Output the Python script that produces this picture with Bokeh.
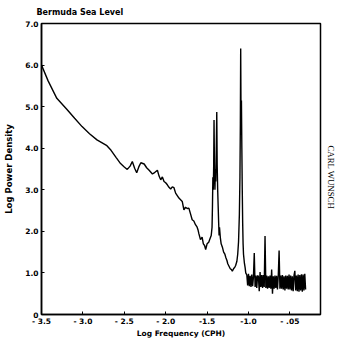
from bokeh.plotting import figure
from bokeh.models import FixedTicker, Range1d, Title
from bokeh.embed import file_html
from bokeh.resources import INLINE

# ---- data (log10 frequency in cph, log10 power density) ----
low_freq = [-3.50, -3.42, -3.315, -3.20, -3.10, -3.01, -2.92, -2.83, -2.71, -2.66,
            -2.60, -2.545, -2.50, -2.464, -2.43, -2.403, -2.375, -2.35, -2.325, -2.30,
            -2.26, -2.23, -2.20, -2.16, -2.13, -2.10, -2.08, -2.06, -2.04, -2.02,
            -2.00, -1.98, -1.96, -1.94, -1.92, -1.90, -1.88, -1.86, -1.84, -1.82,
            -1.80, -1.79, -1.78, -1.76, -1.74, -1.72, -1.70, -1.68, -1.66, -1.64,
            -1.62, -1.61, -1.60, -1.58, -1.56, -1.545, -1.53, -1.517, -1.50, -1.48,
            -1.465, -1.45, -1.44]
low_power = [6.00, 5.62, 5.20, 4.95, 4.72, 4.52, 4.35, 4.20, 4.06, 3.95,
             3.78, 3.63, 3.55, 3.49, 3.57, 3.68, 3.52, 3.41, 3.55, 3.65,
             3.62, 3.53, 3.47, 3.38, 3.42, 3.47, 3.33, 3.24, 3.31, 3.20,
             3.17, 3.12, 3.06, 3.02, 3.07, 3.05, 2.92, 2.86, 2.80, 2.76,
             2.72, 2.62, 2.52, 2.58, 2.55, 2.56, 2.42, 2.28, 2.25, 2.16,
             2.10, 2.04, 1.95, 1.80, 1.86, 1.70, 1.66, 1.56, 1.70, 1.74,
             1.82, 1.90, 2.10]

tidal_freq = [-1.435, -1.43, -1.425, -1.42, -1.416, -1.41, -1.405, -1.40, -1.395, -1.39,
              -1.383, -1.378, -1.372, -1.366, -1.36, -1.355, -1.35, -1.34, -1.33, -1.315,
              -1.30, -1.285, -1.275, -1.26, -1.25, -1.235, -1.22, -1.205, -1.195, -1.18,
              -1.165, -1.155, -1.14, -1.13, -1.12, -1.11, -1.103, -1.098, -1.094, -1.090,
              -1.085, -1.080, -1.075, -1.07, -1.065, -1.06, -1.05, -1.04, -1.033]
tidal_power = [2.60, 3.30, 3.00, 3.60, 4.68, 3.40, 3.00, 3.50, 3.20, 3.80,
               4.87, 3.60, 3.00, 2.60, 2.20, 1.90, 2.10, 1.85, 1.70, 1.62,
               1.50, 1.45, 1.38, 1.30, 1.22, 1.16, 1.10, 1.08, 1.04, 1.10,
               1.14, 1.18, 1.28, 1.45, 1.75, 2.40, 3.30, 4.60, 6.40, 4.80,
               5.15, 4.00, 3.00, 2.20, 1.70, 1.45, 1.25, 1.12, 1.00]

high_freq = [-1.02, -1.01, -1.00, -0.99, -0.98, -0.97, -0.96, -0.95, -0.94, -0.93,
             -0.92, -0.91, -0.90, -0.89, -0.88, -0.87, -0.86, -0.85, -0.84, -0.83,
             -0.82, -0.81, -0.80, -0.79, -0.78, -0.77, -0.76, -0.75, -0.74, -0.73,
             -0.72, -0.71, -0.70, -0.69, -0.68, -0.67, -0.66, -0.65, -0.64, -0.63,
             -0.62, -0.61, -0.60, -0.59, -0.58, -0.57, -0.56, -0.55, -0.54, -0.53,
             -0.52, -0.51, -0.50, -0.49, -0.48, -0.47, -0.46, -0.45, -0.44, -0.43,
             -0.42, -0.41, -0.40, -0.39, -0.38, -0.37, -0.36, -0.35, -0.34, -0.33,
             -0.32, -0.31]
high_power = [0.95, 0.70, 0.98, 0.68, 0.93, 0.66, 0.96, 0.68, 0.90, 1.48,
              0.66, 0.94, 0.64, 0.94, 0.91, 0.56, 1.02, 0.66, 0.95, 0.64,
              0.95, 0.66, 1.89, 0.64, 0.94, 0.62, 0.92, 0.64, 0.94, 0.62,
              1.08, 0.50, 0.92, 0.62, 0.94, 0.64, 0.93, 0.60, 0.94, 1.54,
              0.62, 0.94, 0.62, 0.95, 0.60, 0.92, 0.58, 0.94, 0.62, 0.93,
              0.60, 0.96, 0.60, 0.94, 0.58, 0.92, 0.56, 0.94, 1.05, 0.58,
              0.94, 0.56, 0.96, 0.55, 0.95, 0.58, 0.97, 0.55, 0.96, 0.58,
              0.98, 0.60]

x_ticks = [-3.5, -3.0, -2.5, -2.0, -1.5, -1.0, -0.5]
x_tick_labels = ["- 3.5", "- 3.0", "- 2.5", "- 2.0", "-1.5", "-1.0", "- .05"]
y_ticks = [0, 1, 2, 3, 4, 5, 6, 7]
y_tick_labels = ["0", "1.0", "2.0", "3.0", "4.0", "5.0", "6.0", "7.0"]

title_text = "Bermuda Sea Level"
x_label = "Log Frequency (CPH)"
y_label = "Log Power Density"
side_text = "CARL WUNSCH"

freq = low_freq + tidal_freq + high_freq
power = low_power + tidal_power + high_power

FONT = "DejaVu Sans"

p = figure(width=339, height=340, output_backend="svg", toolbar_location=None,
           x_range=Range1d(-3.5, -0.13), y_range=Range1d(0, 7),
           min_border_left=41, min_border_right=19, min_border_top=23, min_border_bottom=25)
p.background_fill_color = "white"
p.border_fill_color = "white"
p.outline_line_color = "black"
p.outline_line_width = 1.5
p.xgrid.visible = False
p.ygrid.visible = False

p.title.text = title_text
p.title.align = "left"
p.title.offset = -5
p.title.standoff = 9
p.title.vertical_align = "top"
p.title.text_font = FONT
p.title.text_font_style = "bold"
p.title.text_font_size = "8px"
p.title.text_color = "black"

side = Title(text=side_text, align="left", offset=122, standoff=6, vertical_align="top",
             text_font="Liberation Serif", text_font_style="normal",
             text_font_size="8.8px", text_color="black")
p.add_layout(side, "right")

p.line(freq, power, line_color="black", line_width=1.4)

for ax in (p.xaxis[0], p.yaxis[0]):
    ax.axis_line_width = 1.5
    ax.axis_line_color = "black"
    ax.major_tick_in = 3
    ax.major_tick_out = 0
    ax.minor_tick_in = 0
    ax.minor_tick_out = 0
    ax.major_tick_line_color = "black"
    ax.major_label_text_font = FONT
    ax.major_label_text_font_style = "bold"
    ax.major_label_text_font_size = "7.5px"
    ax.major_label_text_color = "black"
    ax.axis_label_text_font = FONT
    ax.axis_label_text_font_style = "bold"
    ax.axis_label_text_color = "black"

p.xaxis.ticker = FixedTicker(ticks=x_ticks)
p.xaxis.major_label_overrides = dict(zip(x_ticks, x_tick_labels))
p.xaxis.axis_label = x_label
p.xaxis.axis_label_text_font_size = "7.5px"
p.xaxis.major_label_standoff = 2
p.xaxis.axis_label_standoff = 0

p.yaxis.ticker = FixedTicker(ticks=y_ticks)
p.yaxis.major_label_overrides = dict(zip(y_ticks, y_tick_labels))
p.yaxis.axis_label = y_label
p.yaxis.axis_label_text_font_size = "8.5px"
p.yaxis.major_label_standoff = 3
p.yaxis.axis_label_standoff = 8

open("out.html", "w").write(file_html(p, INLINE))
